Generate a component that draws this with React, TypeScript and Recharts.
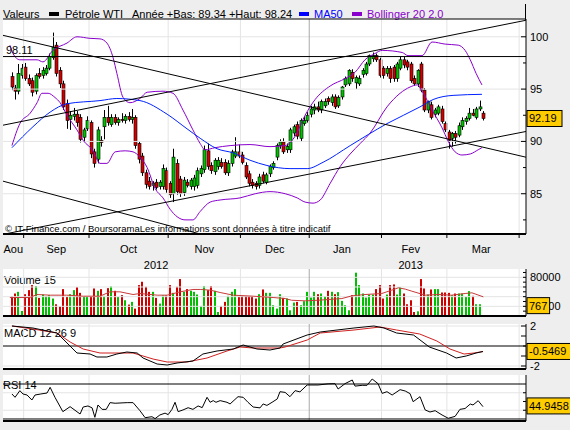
import React from 'react';
import { ComposedChart, Bar, Line, XAxis, YAxis, ReferenceLine, Cell } from 'recharts';

const GREEN = '#00c000';
const RED = '#d00000';
const PURPLE = '#8a00cc';
const BLUE = '#0022ff';
const GRID = '#e4e4e4';
const GRID_YEAR = '#a8a8a8';
const BG = '#eeeeee';
const FONT = '"Liberation Sans", Arial, sans-serif';

// x axis: trading-day index
const X_DOMAIN: [number, number] = [-0.5, 151.5];
const FIRST_DAY = 2;
const monthEdges = [5.5, 24.5, 47.5, 68.5, 88.5, 109.5, 128.5, 149.5];
const yearEdge = 88.5;
const monthNames = ['Aou', 'Sep', 'Oct', 'Nov', 'Dec', 'Jan', 'Fev', 'Mar'];
const monthCenters = [2.5, 15, 36, 58, 78.5, 98, 118, 138.5];
const yearNames = ['2012', '2013'];
const yearCenters = [44, 118];

// price panel
const PRICE_DOMAIN: [number, number] = [81.15, 101.7];
const priceTicks = [82.5, 85, 87.5, 90, 92.5, 95, 97.5, 100];
const priceGrid = [85, 90, 95, 100];
const lastClose = 92.19;
const resistance = 98.11;

// [open, high, low, close]
const ohlc: number[][] = [
  [96.2, 96.6, 94.9, 95.2], [95.1, 95.4, 94.0, 94.8], [94.8, 97.4, 94.5, 96.5], [96.3, 97.4, 96.0, 97.0],
  [97.1, 97.5, 95.8, 96.0], [96.0, 96.4, 95.3, 95.5], [95.8, 96.1, 94.3, 94.7], [94.8, 96.5, 94.5, 96.3],
  [96.5, 97.0, 96.0, 96.2], [96.3, 97.1, 96.0, 96.8], [96.5, 97.3, 96.3, 97.0], [97.0, 98.4, 96.8, 98.1],
  [98.0, 100.4, 97.8, 99.0], [99.2, 99.5, 96.2, 96.5], [96.8, 97.1, 95.1, 95.5], [95.5, 95.8, 93.0, 93.3],
  [93.6, 94.0, 91.2, 92.0], [92.1, 92.9, 91.1, 92.5], [92.4, 93.2, 92.0, 92.6], [92.6, 92.9, 91.4, 91.8],
  [92.3, 92.6, 89.9, 90.2], [90.4, 91.3, 90.0, 91.1], [91.2, 92.4, 91.0, 92.0], [91.8, 92.0, 88.4, 88.8],
  [89.0, 89.3, 87.5, 87.9], [88.3, 91.4, 87.9, 91.1], [90.1, 90.5, 89.5, 89.9], [91.4, 93.0, 90.2, 92.3],
  [92.3, 93.4, 91.5, 91.8], [91.6, 92.6, 91.4, 92.3], [92.3, 92.6, 91.6, 91.8], [91.8, 92.3, 91.5, 92.1],
  [92.1, 92.7, 91.8, 92.0], [92.0, 92.6, 91.7, 92.4], [92.4, 92.8, 91.9, 92.1], [92.1, 93.1, 91.7, 92.3],
  [92.3, 92.5, 89.3, 89.6], [89.8, 90.0, 87.9, 88.3], [88.6, 88.9, 86.7, 87.0], [87.0, 87.3, 85.5, 85.9],
  [86.2, 86.6, 85.4, 85.7], [85.8, 86.2, 85.3, 86.0], [86.1, 86.4, 85.4, 85.6], [85.7, 86.3, 85.4, 86.1],
  [85.7, 87.8, 85.4, 87.4], [87.2, 87.5, 85.1, 85.4], [86.0, 86.2, 84.6, 84.9], [85.0, 89.3, 84.2, 88.5],
  [87.9, 88.3, 84.9, 85.2], [86.4, 86.7, 84.7, 85.0], [85.1, 86.6, 84.8, 86.3], [86.1, 86.4, 85.6, 85.8],
  [85.7, 86.5, 85.4, 86.3], [85.7, 86.8, 85.3, 86.5], [85.8, 87.5, 85.5, 87.2], [86.9, 87.7, 86.6, 87.4],
  [87.3, 89.6, 87.0, 89.2], [89.1, 89.8, 87.3, 87.6], [87.7, 88.0, 86.9, 87.2], [87.1, 88.4, 86.8, 88.2],
  [87.6, 88.5, 87.3, 88.2], [88.0, 88.4, 87.4, 87.6], [88.0, 88.3, 86.8, 87.0], [87.0, 88.2, 86.7, 87.9],
  [87.9, 89.2, 87.6, 89.0], [88.6, 90.4, 88.4, 89.0], [89.0, 89.7, 88.4, 88.6], [88.7, 89.0, 87.8, 88.0],
  [87.7, 88.0, 86.4, 86.6], [86.9, 87.2, 85.7, 86.0], [86.1, 86.4, 85.5, 85.8], [86.0, 86.2, 85.4, 85.7],
  [85.8, 86.9, 85.5, 86.6], [86.8, 87.1, 86.0, 86.2], [86.1, 87.0, 85.9, 86.8], [86.9, 87.8, 86.6, 87.6],
  [87.5, 88.1, 87.3, 87.9], [88.5, 89.8, 88.2, 89.6], [89.6, 90.2, 89.3, 89.95], [89.95, 90.3, 88.8, 89.0],
  [89.2, 89.8, 88.9, 89.5], [89.2, 91.3, 88.9, 91.1], [90.8, 91.6, 90.5, 91.4], [91.6, 91.9, 90.2, 90.5],
  [90.3, 92.2, 90.0, 92.0], [91.7, 92.4, 91.5, 92.0], [92.0, 92.8, 91.8, 92.5], [92.6, 93.4, 92.3, 93.1],
  [93.0, 93.6, 92.6, 93.3], [93.3, 93.8, 92.8, 93.0], [93.0, 94.0, 92.7, 93.8], [93.4, 94.1, 93.2, 93.8],
  [94.1, 94.3, 93.5, 93.8], [93.7, 94.5, 93.4, 94.25], [94.25, 94.5, 93.1, 93.3], [93.4, 94.4, 93.2, 94.2],
  [94.25, 95.3, 94.0, 95.2], [95.4, 96.2, 95.2, 96.0], [95.5, 96.9, 95.3, 96.8], [96.6, 96.9, 95.7, 96.0],
  [95.6, 96.3, 95.0, 96.1], [95.5, 96.3, 95.3, 96.0], [96.4, 97.0, 96.1, 96.8], [96.5, 97.6, 96.3, 97.4],
  [97.4, 98.3, 97.2, 98.2], [97.9, 98.5, 97.6, 98.2], [98.2, 98.4, 97.6, 97.8], [97.8, 98.0, 96.1, 96.3],
  [97.0, 97.2, 96.0, 96.3], [96.5, 97.2, 96.2, 96.96], [96.96, 97.2, 95.6, 96.0], [97.1, 97.3, 95.7, 96.0],
  [96.0, 97.6, 95.7, 97.4], [97.0, 98.1, 96.8, 97.8], [97.8, 98.1, 97.0, 97.3], [97.6, 97.8, 96.8, 97.1],
  [97.4, 97.6, 95.6, 95.8], [96.0, 96.3, 95.3, 95.5], [95.5, 96.9, 95.2, 96.8], [97.4, 97.6, 94.7, 94.9],
  [94.9, 95.1, 92.8, 93.0], [93.0, 93.9, 92.7, 93.8], [93.5, 93.8, 92.1, 92.3], [92.6, 93.2, 92.3, 93.0],
  [92.7, 93.5, 92.5, 93.3], [93.1, 93.4, 91.7, 91.9], [91.7, 91.9, 90.9, 91.1], [90.9, 91.1, 89.3, 90.1],
  [90.3, 90.9, 89.5, 90.75], [90.75, 91.0, 89.8, 90.4], [90.6, 91.8, 90.4, 91.5], [91.4, 92.3, 91.1, 92.0],
  [91.9, 92.4, 91.6, 92.2], [92.2, 93.2, 92.0, 92.7], [92.7, 93.1, 92.4, 92.5], [92.3, 93.3, 92.1, 93.1],
  [93.1, 93.9, 92.9, 93.3], [92.7, 92.9, 92.0, 92.19],
];

// [day index, value]
const ma50 = [
  [2.1, 89.4], [8.2, 91.4], [13.2, 92.8], [18.1, 93.6], [27.7, 93.9], [32.6, 94.1], [39.3, 93.9],
  [47.2, 92.6], [53.0, 91.2], [56.8, 90.3], [61.7, 89.3], [66.4, 88.9], [71.3, 88.2], [76.2, 87.7],
  [82.9, 87.4], [87.9, 87.4], [92.5, 88.0], [100.4, 89.6], [111.1, 91.7], [120.7, 93.3], [124.5, 94.0],
  [130.3, 94.4], [138.7, 94.5],
];
const bollUpper = [
  [1.5, 99.2], [2.4, 98.4], [4.4, 97.8], [9.4, 97.8], [11.1, 97.6], [14.0, 98.7], [18.1, 99.4],
  [21.0, 100.0], [24.8, 99.85], [27.7, 99.8], [29.7, 99.4], [31.5, 98.0], [32.6, 96.5], [34.4, 94.2],
  [36.4, 93.7], [39.3, 94.1], [41.4, 94.7], [46.0, 94.8], [48.9, 94.6], [51.8, 93.0], [54.7, 91.1],
  [56.8, 89.8], [58.2, 89.2], [61.1, 89.4], [65.5, 89.6], [71.3, 89.7], [77.1, 89.5], [81.5, 89.6],
  [84.4, 90.5], [87.3, 92.5], [90.2, 94.0], [94.6, 95.3], [98.9, 96.0], [101.8, 96.6], [104.7, 97.8],
  [107.6, 98.4], [109.7, 98.7], [115.5, 98.5], [117.2, 98.2], [121.3, 98.2], [124.2, 99.5], [128.0, 99.3],
  [131.8, 99.2], [133.8, 98.7], [135.3, 97.8], [137.0, 96.5], [138.7, 95.4],
];
const bollLower = [
  [2.1, 89.6], [4.4, 91.7], [7.4, 92.7], [9.4, 93.7], [10.8, 94.6], [12.6, 94.6], [14.6, 94.2],
  [16.1, 93.7], [18.1, 92.5], [21.0, 91.1], [22.8, 90.1], [25.7, 89.1], [27.7, 87.9], [29.7, 87.9],
  [32.1, 89.0], [35.0, 89.1], [37.3, 89.0], [39.3, 88.5], [41.4, 87.5], [43.7, 85.5], [46.0, 84.6],
  [48.1, 83.5], [50.1, 82.8], [52.4, 82.5], [54.7, 82.5], [56.8, 83.3], [59.7, 84.2], [62.6, 84.4],
  [68.4, 84.6], [72.8, 85.0], [77.1, 85.2], [81.5, 85.0], [85.0, 84.6], [87.3, 84.2], [89.6, 84.1],
  [91.7, 84.4], [94.6, 86.0], [97.5, 87.6], [100.4, 88.8], [103.3, 89.8], [106.2, 90.8], [111.1, 93.3],
  [114.9, 94.6], [117.8, 95.2], [119.9, 95.4], [121.3, 94.8], [124.2, 93.0], [127.1, 91.3], [128.9, 90.0],
  [130.9, 89.0], [132.9, 88.7], [135.3, 88.8], [137.6, 89.2], [138.7, 89.4],
];
// trend lines: [day1, price1, day2, price2]
const trendLines = [
  [-0.5, 91.55, 151.5, 101.58],
  [-0.5, 100.14, 151.5, 88.49],
  [-0.5, 86.2, 56.8, 81.15],
  [0, 81.15, 151.5, 90.95],
];

// volume panel (thousands)
const VOL_DOMAIN: [number, number] = [0, 97.2];
const volTicks = [10, 20, 30, 40, 50, 60, 70, 80, 90];
const volGrid = [20, 40, 60, 80];
const volLabels = [20, 80];
const volumeK = [
  41.0, 46.5, 50.0, 10.4, 45.1, 53.5, 63.9, 61.8, 37.5, 44.4, 41.0, 43.1, 36.1, 24.3, 20.1, 55.6,
  39.6, 45.1, 53.5, 59.7, 47.9, 41.0, 39.6, 39.6, 56.9, 52.1, 55.6, 41.7, 57.6, 61.1, 52.1, 39.6,
  43.1, 32.6, 23.6, 29.2, 15.3, 63.9, 70.8, 60.4, 50.0, 50.0, 37.5, 25.7, 42.4, 42.4, 63.9, 47.9,
  60.4, 76.4, 50.0, 55.6, 52.1, 50.0, 44.4, 20.8, 61.8, 53.5, 61.8, 52.1, 8.3, 20.8, 29.2, 41.7,
  50.0, 55.6, 39.6, 41.0, 41.0, 41.0, 39.6, 36.1, 45.1, 54.9, 47.9, 47.9, 22.2, 15.3, 45.1, 37.5,
  36.1, 11.8, 27.8, 29.2, 22.2, 30.6, 50.0, 38.2, 50.0, 45.1, 46.5, 41.0, 52.1, 50.0, 45.1, 49.3,
  31.3, 22.2, 11.8, 43.1, 89.6, 63.9, 46.5, 38.2, 44.4, 44.4, 55.6, 63.9, 36.1, 44.4, 63.9, 65.3,
  44.4, 59.0, 46.5, 24.3, 32.6, 8.3, 9.7, 76.4, 56.9, 44.4, 54.9, 55.6, 55.6, 48.6, 48.6, 47.9,
  43.1, 46.5, 46.5, 46.5, 39.6, 51.4, 41.7, 24.3, 24.3, 0.767,
];
const lastVolume = '767';
const volMa = [
  [1.5, 38.2], [7.3, 38.2], [9.3, 44.4], [13.2, 43.1], [18.0, 43.1], [22.8, 41.0], [27.7, 41.0],
  [30.6, 50.0], [33.5, 50.0], [37.3, 44.4], [39.3, 46.5], [44.3, 43.1], [47.2, 43.1], [51.0, 50.0],
  [54.7, 54.9], [56.8, 54.9], [59.7, 53.5], [62.6, 48.6], [66.4, 43.1], [72.2, 41.0], [78.0, 38.2],
  [81.5, 36.1], [83.4, 32.6], [87.3, 31.3], [91.1, 32.6], [98.0, 36.1], [100.9, 41.7], [104.7, 44.4],
  [109.6, 46.5], [112.5, 53.5], [114.4, 58.3], [116.4, 55.6], [118.3, 51.4], [122.2, 43.1],
  [126.0, 44.4], [129.9, 43.1], [133.8, 46.5], [135.8, 47.9], [139.1, 39.6],
];

// MACD panel
const MACD_DOMAIN: [number, number] = [-2.3, 2.2];
const macdTicks = [2, 1, 0, -1, -2];
const macdLine = [
  [2.1, 2.0], [8.2, 1.8], [15.2, 1.3], [18.1, 0.3], [21.0, -0.7], [24.8, -0.8], [26.8, -1.1],
  [29.7, -1.1], [32.6, -0.8], [35.5, -0.6], [38.5, -0.7], [40.2, -1.2], [44.3, -1.8], [47.2, -1.9],
  [50.1, -1.7], [54.7, -1.5], [57.6, -0.8], [61.7, -0.5], [66.4, -0.3], [69.3, 0.1], [73.3, -0.3],
  [77.1, -0.4], [80.0, -0.2], [80.9, 0.2], [87.9, 1.1], [91.7, 1.4], [101.5, 1.8], [107.3, 2.0],
  [110.2, 1.8], [113.9, 1.3], [118.8, 1.1], [123.4, -0.1], [128.4, -0.7], [131.2, -1.2], [134.1, -1.0],
  [137.0, -0.7], [139.0, -0.55],
];
const macdSignal = [
  [2.1, 2.0], [8.2, 1.7], [15.2, 1.3], [19.0, 0.4], [22.8, -0.3], [27.7, -0.7], [37.3, -0.7],
  [43.1, -1.3], [47.2, -1.6], [53.0, -1.6], [58.8, -1.2], [64.6, -0.5], [68.4, -0.1], [72.2, -0.2],
  [80.0, -0.2], [81.5, -0.1], [87.9, 0.6], [91.7, 1.3], [101.5, 1.6], [109.1, 1.9], [113.9, 1.6],
  [120.6, 1.2], [125.6, 0.5], [129.4, -0.3], [133.5, -0.8], [136.4, -0.7], [139.0, -0.55],
];
const lastMacd = -0.5469;

// RSI panel
const RSI_DOMAIN: [number, number] = [27.7, 80.3];
const rsiTicks = [60, 50, 40];
const rsi = [
  [2.1, 58.6], [3.0, 54.8], [4.4, 62.4], [5.3, 58.6], [6.5, 57.4], [7.9, 51.7], [8.8, 57.4],
  [10.5, 58.6], [12.3, 59.7], [13.2, 66.2], [14.6, 54.8], [16.9, 38.4], [19.0, 44.1], [21.9, 35.7],
  [22.8, 43.7], [24.2, 44.9], [25.4, 42.7], [26.2, 31.9], [27.1, 46.0], [28.3, 41.0], [29.5, 41.0],
  [30.6, 48.7], [32.1, 48.0], [35.6, 48.7], [37.3, 48.7], [39.3, 39.5], [40.8, 31.5], [42.8, 32.6],
  [43.7, 30.4], [45.1, 34.6], [46.6, 36.7], [47.5, 35.0], [48.6, 41.0], [49.5, 49.1], [50.4, 38.4],
  [51.8, 40.3], [53.3, 42.9], [54.7, 41.0], [56.2, 44.9], [57.4, 43.0], [58.8, 54.8], [59.7, 49.1],
  [60.6, 51.0], [61.4, 49.1], [62.6, 51.0], [64.6, 49.1], [65.5, 47.2], [67.8, 55.5], [69.3, 54.8],
  [70.7, 49.1], [72.2, 43.7], [74.2, 42.7], [75.1, 47.2], [76.2, 45.5], [77.7, 49.1], [79.2, 52.9],
  [80.0, 61.2], [81.5, 60.4], [82.9, 55.5], [84.4, 62.4], [85.8, 61.0], [87.9, 68.9], [91.1, 68.9],
  [94.0, 70.2], [96.0, 70.4], [96.9, 64.3], [98.9, 70.4], [101.0, 74.6], [101.8, 67.6], [103.9, 68.5],
  [105.3, 68.5], [106.8, 75.7], [108.5, 70.4], [109.7, 59.3], [111.1, 61.2], [112.6, 57.4],
  [114.9, 63.5], [116.4, 62.0], [117.8, 59.0], [118.7, 49.8], [120.7, 55.5], [122.2, 40.3],
  [123.6, 38.0], [125.1, 39.5], [127.1, 34.6], [128.9, 30.8], [130.9, 33.0], [132.3, 41.0],
  [133.8, 42.0], [135.3, 47.1], [136.1, 46.0], [137.6, 50.9], [139.0, 44.1],
];
const lastRsi = 44.9458;

const pts = (a: number[][]) => a.map(([i, v]) => ({ i, v }));

const candles = ohlc.map(([o, h, l, c], k) => ({ i: FIRST_DAY + k, o, h, l, c, range: [l, h] }));
const volRows = volumeK.map((v, k) => ({ i: FIRST_DAY + k, v, up: ohlc[k][3] >= ohlc[k][0] }));

const Candle = (props: any) => {
  const { x, y, width, height, payload } = props;
  if (!payload || !isFinite(y) || !isFinite(height)) return null;
  const top = Math.min(y, y + height);
  const bot = Math.max(y, y + height);
  const span = payload.h - payload.l || 1;
  const py = (v: number) => top + ((payload.h - v) / span) * (bot - top);
  const cx = Math.round(x + width / 2) + 0.5;
  const yo = py(payload.o);
  const yc = py(payload.c);
  const up = payload.c >= payload.o;
  return (
    <g>
      <line x1={cx} x2={cx} y1={top} y2={bot} stroke="#000" strokeWidth={1} />
      <rect
        x={cx - 1.5}
        y={Math.min(yo, yc)}
        width={3}
        height={Math.max(1, Math.abs(yc - yo))}
        fill={up ? GREEN : RED}
        stroke="#000"
        strokeWidth={0.6}
      />
    </g>
  );
};

const VolBar = (props: any) => {
  const { x, y, width, height, payload } = props;
  if (!payload || !isFinite(y) || !isFinite(height)) return null;
  const left = Math.round(x + width / 2) - 1;
  return <rect x={left} y={y} width={2} height={Math.max(0.5, height)} fill={payload.up ? GREEN : RED} />;
};

function axisTick(
  labelFor: (v: number) => string | null,
  boxValue: number,
  boxText: string,
  isMinor: (v: number) => boolean = () => false,
  boxShift = 0,
) {
  return (props: any) => {
    const { x, y, payload } = props;
    const v = payload.value;
    if (v === boxValue) {
      const w = boxText.length * 6.2 + 4;
      const cy = y + boxShift;
      return (
        <g>
          <rect x={x + 1} y={cy - 8} width={w} height={16} fill="#ffcc00" stroke="#000" />
          <text x={x + 3} y={cy + 4} fontSize={11} fill="#000">{boxText}</text>
        </g>
      );
    }
    const label = labelFor(v);
    return (
      <g>
        <line x1={x - (isMinor(v) ? 3 : 5)} x2={x} y1={y} y2={y} stroke="#000" />
        {label && (
          <text x={x + 4} y={y + 4} fontSize={11} fill="#000">{label}</text>
        )}
      </g>
    );
  };
}

const PriceTick = axisTick((v) => (v % 5 === 0 ? String(v) : null), lastClose, '92.19', (v) => v % 5 !== 0);
const VolTick = axisTick((v) => (volLabels.includes(v) ? String(v * 1000) : null), 0.767, lastVolume, () => true, -10);
const MacdTick = axisTick((v) => (Math.abs(v) === 2 ? String(v) : null), lastMacd, '-0.5469', (v) => v === 0);
const RsiTick = axisTick(() => null, lastRsi, '44.9458', () => true);

const monthGrid = () =>
  monthEdges.map((m) => (
    <ReferenceLine key={'m' + m} x={m} stroke={m === yearEdge ? GRID_YEAR : GRID} />
  ));

const hGrid = (vals: number[]) => vals.map((v) => <ReferenceLine key={'h' + v} y={v} stroke={GRID} />);

const panel = (top: number, height: number) => (
  <div style={{ position: 'absolute', left: 3, top, width: 523, height, background: '#fff' }} />
);

const txt = (left: number, top: number, s: string, extra: React.CSSProperties = {}) => (
  <div style={{ position: 'absolute', left, top, fontSize: 11, lineHeight: '12px', whiteSpace: 'nowrap', ...extra }}>{s}</div>
);

const swatch = (left: number, color: string) => (
  <div style={{ position: 'absolute', left, top: 12, width: 10, height: 4, background: color }} />
);

const abs = (top: number, node: React.ReactNode) => (
  <div style={{ position: 'absolute', left: 0, top }}>{node}</div>
);

export default function App() {
  return (
    <div style={{ position: 'absolute', left: 0, top: 0, width: 570, height: 430, background: BG, fontFamily: FONT, color: '#000', overflow: 'hidden' }}>
      {panel(19, 215)}
      {panel(269, 47)}
      {panel(324, 45)}
      {panel(375, 46)}

      {txt(3, 8, 'Valeurs')}
      {swatch(49, '#000')}
      {txt(65, 8, 'Pétrole WTI')}
      {txt(132, 8, 'Année +Bas: 89.34 +Haut: 98.24')}
      {swatch(299, '#0000ff')}
      {txt(314, 8, 'MA50', { color: '#0000ff' })}
      {swatch(352, PURPLE)}
      {txt(367, 8, 'Bollinger 20 2.0', { color: PURPLE })}
      <div style={{ position: 'absolute', left: 525, top: 4, width: 1, height: 16, background: '#000' }} />

      {txt(4, 274, 'Volume 15')}
      {txt(4, 327, 'MACD 12 26 9')}
      {txt(3, 379, 'RSI 14')}

      {abs(0,
        <ComposedChart width={570} height={270} data={candles} margin={{ top: 19, right: 0, bottom: 0, left: 3 }}>
          <XAxis type="number" dataKey="i" domain={X_DOMAIN} allowDataOverflow ticks={monthEdges} interval={0}
            tickFormatter={() => ''} tickSize={4} tickLine={{ stroke: '#000' }} axisLine={{ stroke: '#000', strokeWidth: 2 }} height={10} />
          <XAxis xAxisId="m" type="number" dataKey="i" domain={X_DOMAIN} allowDataOverflow ticks={monthCenters} interval={0}
            tickFormatter={(v: number) => monthNames[monthCenters.indexOf(v)] ?? ''} tickLine={false} axisLine={false}
            tickSize={0} tickMargin={1} tick={{ fill: '#000', fontSize: 11 }} height={16} />
          <XAxis xAxisId="y" type="number" dataKey="i" domain={X_DOMAIN} allowDataOverflow ticks={yearCenters} interval={0}
            tickFormatter={(v: number) => yearNames[yearCenters.indexOf(v)] ?? ''} tickLine={false} axisLine={false}
            tickSize={0} tickMargin={1} tick={{ fill: '#000', fontSize: 11 }} height={10} />
          <YAxis orientation="right" width={44} domain={PRICE_DOMAIN} allowDataOverflow ticks={[...priceTicks, lastClose]}
            interval={0} tick={PriceTick} tickLine={false} tickSize={0} tickMargin={0} axisLine={{ stroke: '#000' }} />
          {hGrid(priceGrid)}
          {monthGrid()}
          <ReferenceLine y={PRICE_DOMAIN[1]} stroke="#000" />
          <Bar dataKey="range" barSize={3} shape={Candle} isAnimationActive={false} />
          <Line data={pts(bollUpper)} dataKey="v" type="monotone" stroke={PURPLE} dot={false} strokeWidth={1} isAnimationActive={false} />
          <Line data={pts(bollLower)} dataKey="v" type="monotone" stroke={PURPLE} dot={false} strokeWidth={1} isAnimationActive={false} />
          <Line data={pts(ma50)} dataKey="v" type="monotone" stroke={BLUE} dot={false} strokeWidth={1} isAnimationActive={false} />
          <ReferenceLine y={resistance} stroke="#000"
            label={{ value: '98.11', position: 'insideBottomLeft', fill: '#000', fontSize: 11, offset: 3 }} />
          {trendLines.map(([a, p, b, q], k) => (
            <ReferenceLine key={'t' + k} segment={[{ x: a, y: p }, { x: b, y: q }]} stroke="#000" ifOverflow="hidden" />
          ))}
        </ComposedChart>
      )}
      {txt(5, 224, '© IT-Finance.com / BoursoramaLes informations sont données à titre indicatif', { fontSize: 9.5, lineHeight: '10px' })}

      {abs(261,
        <ComposedChart width={570} height={63} data={volRows} margin={{ top: 8, right: 0, bottom: 8, left: 3 }}>
          <XAxis type="number" dataKey="i" domain={X_DOMAIN} allowDataOverflow hide />
          <YAxis orientation="right" width={44} domain={VOL_DOMAIN} allowDataOverflow ticks={[...volTicks, 0.767]}
            interval={0} tick={VolTick} tickLine={false} tickSize={0} tickMargin={0} axisLine={{ stroke: '#000' }} />
          {hGrid(volGrid)}
          {monthGrid()}
          <Bar dataKey="v" barSize={2} shape={VolBar} isAnimationActive={false} />
          <Line data={pts(volMa)} dataKey="v" type="linear" stroke="#c83a3a" dot={false} strokeWidth={1} isAnimationActive={false} />
          <ReferenceLine y={0} stroke="#000" strokeWidth={2} />
        </ComposedChart>
      )}

      {abs(316,
        <ComposedChart width={570} height={61} margin={{ top: 8, right: 0, bottom: 8, left: 3 }}>
          <XAxis type="number" dataKey="i" domain={X_DOMAIN} allowDataOverflow hide />
          <YAxis orientation="right" width={44} domain={MACD_DOMAIN} allowDataOverflow ticks={[...macdTicks, lastMacd]}
            interval={0} tick={MacdTick} tickLine={false} tickSize={0} tickMargin={0} axisLine={{ stroke: '#000' }} />
          {hGrid([2, -2])}
          {monthGrid()}
          <ReferenceLine y={0} stroke="#000" />
          <Line data={pts(macdSignal)} dataKey="v" type="linear" stroke="#d02020" dot={false} strokeWidth={1} isAnimationActive={false} />
          <Line data={pts(macdLine)} dataKey="v" type="linear" stroke="#000" dot={false} strokeWidth={1} isAnimationActive={false} />
          <ReferenceLine y={MACD_DOMAIN[0]} stroke="#000" strokeWidth={2} />
        </ComposedChart>
      )}

      {abs(367,
        <ComposedChart width={570} height={62} margin={{ top: 8, right: 0, bottom: 8, left: 3 }}>
          <XAxis type="number" dataKey="i" domain={X_DOMAIN} allowDataOverflow hide />
          <YAxis orientation="right" width={44} domain={RSI_DOMAIN} allowDataOverflow ticks={[...rsiTicks, lastRsi]}
            interval={0} tick={RsiTick} tickLine={false} tickSize={0} tickMargin={0} axisLine={{ stroke: '#000' }} />
          {hGrid([60, 40])}
          {monthGrid()}
          <ReferenceLine y={70} stroke="#000" />
          <ReferenceLine y={30} stroke="#000" />
          <Line data={pts(rsi)} dataKey="v" type="linear" stroke="#000" dot={false} strokeWidth={1} isAnimationActive={false} />
          <ReferenceLine y={RSI_DOMAIN[0]} stroke="#000" strokeWidth={2} />
        </ComposedChart>
      )}
    </div>
  );
}
